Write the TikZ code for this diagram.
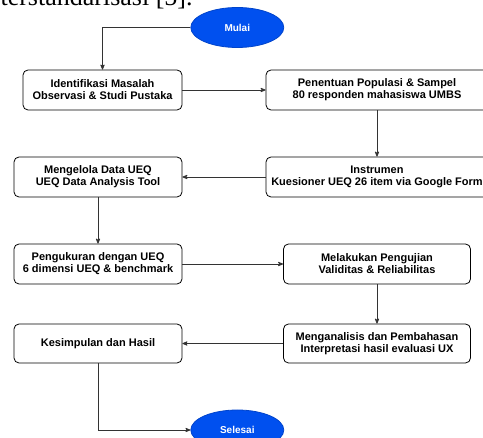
\documentclass[tikz,border=0pt]{standalone}
\usepackage{fontspec}
\setmainfont{Liberation Sans}
\newfontfamily\pageserif{Liberation Serif}
\usepackage{xcolor}
\usepackage{tikz}
\usetikzlibrary{arrows,positioning,calc,shapes.geometric}
\definecolor{startblue}{HTML}{0050EF}
\definecolor{edgegray}{HTML}{333333}
\tikzset{stepbox/.style={draw=black,rounded corners=5pt,align=center,font=\fontsize{11}{12}\selectfont\bfseries,inner sep=2pt}}
\tikzset{term/.style={ellipse,fill=startblue,draw=startblue!85!black,text=white,minimum width=93pt,minimum height=40pt,inner sep=0pt,font=\fontsize{10}{12}\selectfont\bfseries}}

\begin{document}
\begin{tikzpicture}[->, >=stealth', auto, x=1pt, y=-1pt, line width=0.8pt]
        \useasboundingbox (0,0) rectangle (483,438);
        \tikzstyle{every edge}=[draw=edgegray]
        % baris teks halaman di atas
        \node[anchor=base east,font=\pageserif\fontsize{26}{30}\selectfont,inner sep=0pt] (T) at (193,6) {terstandarisasi [5].};
        % terminal
        \node[term] (M) at (237.3,27.5) {Mulai};
        \node[term] (Z) at (237.3,430) {Selesai};
        % langkah
        \node[stepbox,minimum width=159pt,minimum height=40pt] (A) at (102.5,90) {Identifikasi Masalah\\Observasi \& Studi Pustaka};
        \node[stepbox,minimum width=222pt,minimum height=40pt] (B) at (377,90) {Penentuan Populasi \& Sampel\\80 responden mahasiswa UMBS};
        \node[stepbox,minimum width=222pt,minimum height=40pt] (C) at (377,177) {Instrumen\\Kuesioner UEQ 26 item via Google Form};
        \node[stepbox,minimum width=168pt,minimum height=40pt] (D) at (98,177) {Mengelola Data UEQ\\UEQ Data Analysis Tool};
        \node[stepbox,minimum width=168pt,minimum height=40pt] (E) at (98,264) {Pengukuran dengan UEQ\\6 dimensi UEQ \& benchmark};
        \node[stepbox,minimum width=187pt,minimum height=40pt] (F) at (377,264) {Melakukan Pengujian\\Validitas \& Reliabilitas};
        \node[stepbox,minimum width=187pt,minimum height=39pt] (G) at (377,343.5) {Menganalisis dan Pembahasan\\Interpretasi hasil evaluasi UX};
        \node[stepbox,minimum width=168pt,minimum height=39pt] (H) at (98,343.5) {Kesimpulan dan Hasil};
        % alur
        \draw[edgegray] (M.west) -| (A.north);
        \path (A) edge node {} (B);
        \path (B) edge node {} (C);
        \path (C) edge node {} (D);
        \path (D) edge node {} (E);
        \path (E) edge node {} (F);
        \path (F) edge node {} (G);
        \path (G) edge node {} (H);
        \draw[edgegray] (H.south) |- (Z.west);
\end{tikzpicture}
\end{document}
